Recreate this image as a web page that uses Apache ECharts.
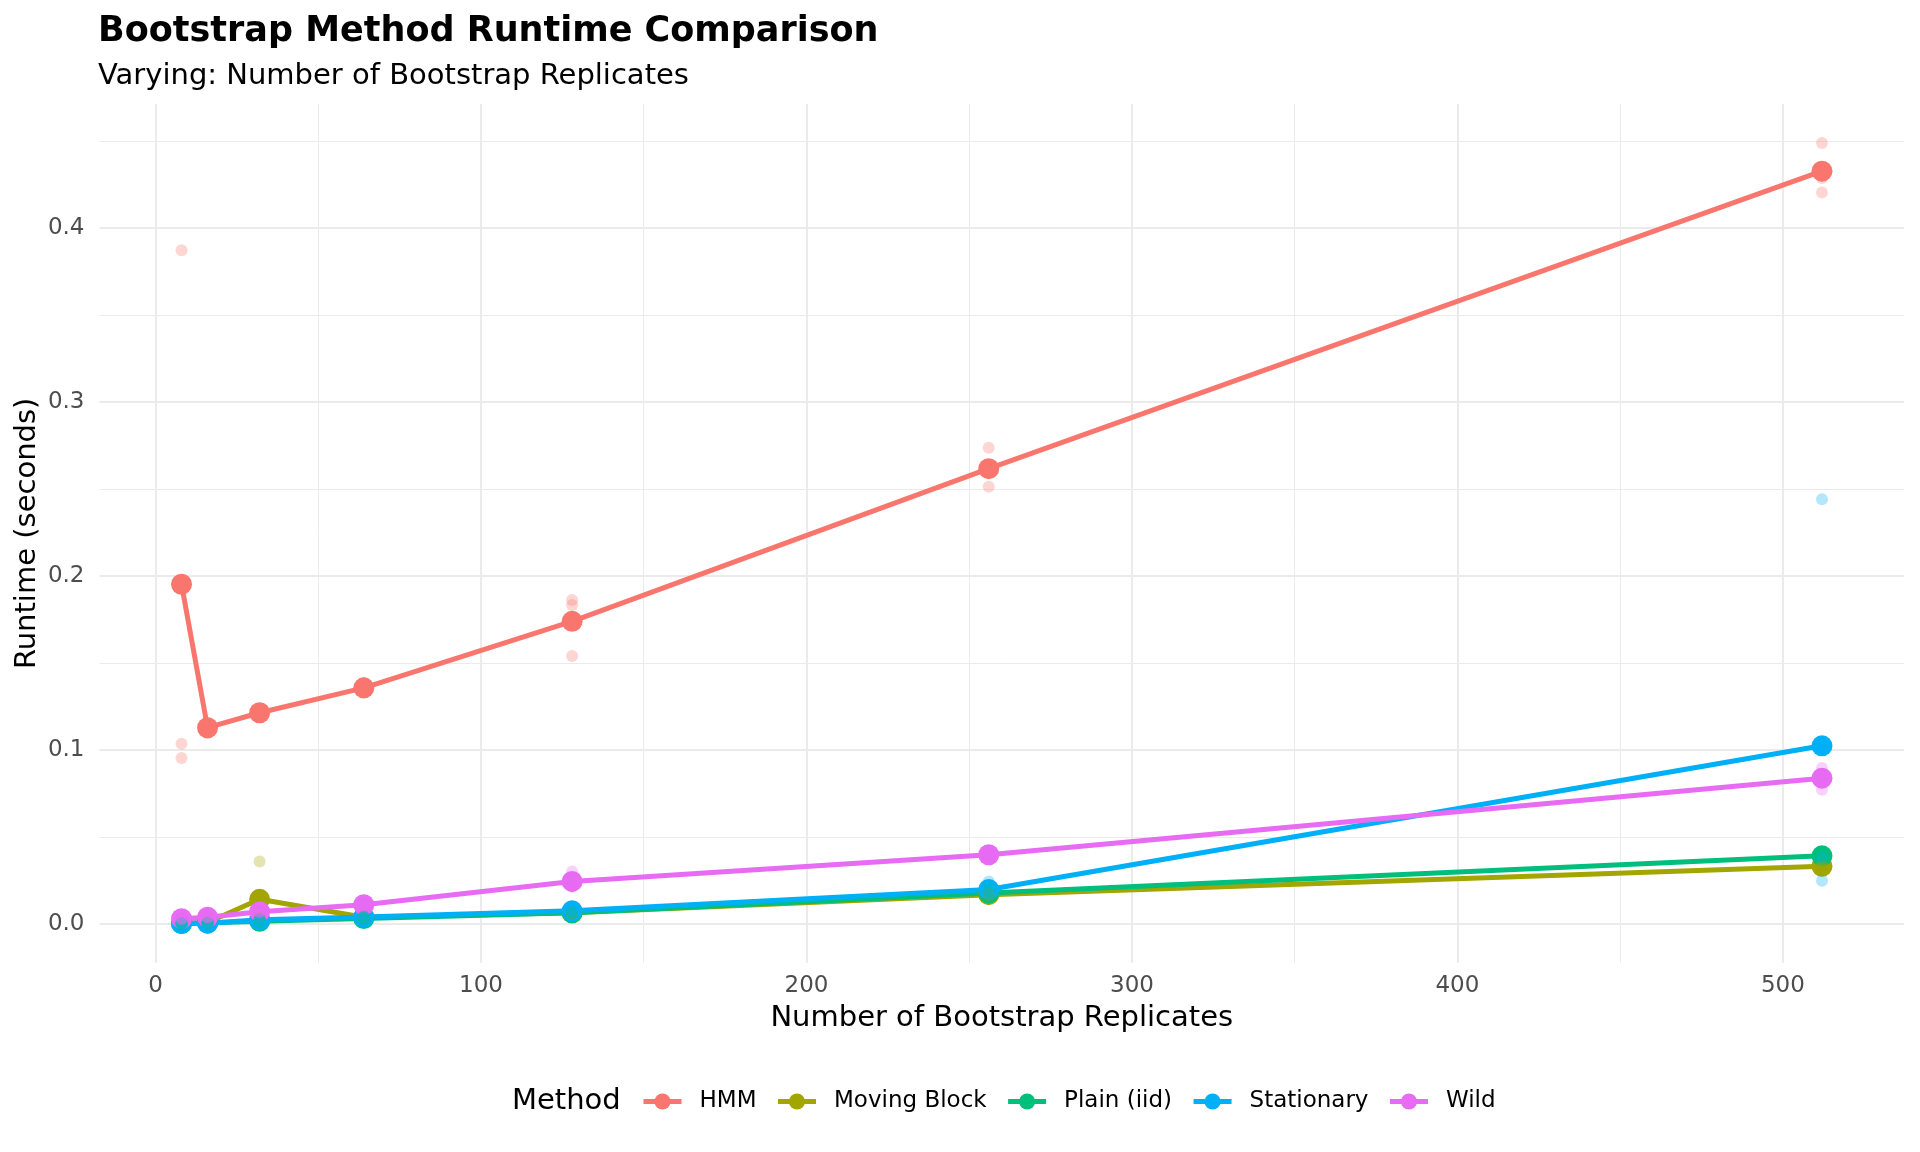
<!DOCTYPE html>
<html>
<head>
<meta charset="utf-8">
<script src="https://cdn.jsdelivr.net/npm/echarts@6/dist/echarts.min.js"></script>
<style>
html,body{margin:0;padding:0;background:#fff;}
#chart{width:1920px;height:1152px;}
</style>
</head>
<body>
<div id="chart"></div>
<script>
// ---- data ----
const replicates = [8, 16, 32, 64, 128, 256, 512];
const methods = ['HMM', 'Moving Block', 'Plain (iid)', 'Stationary', 'Wild'];
const colors = ['#F8766D', '#A3A500', '#00BF7D', '#00B0F6', '#E76BF3'];

// mean runtime (seconds) per replicate count
const meanHMM        = [0.1953, 0.1129, 0.1215, 0.1358, 0.1740, 0.2617, 0.4326];
const meanMovingBlock= [0.0005, 0.0010, 0.0143, 0.0040, 0.0066, 0.0170, 0.0333];
const meanPlain      = [0.0004, 0.0007, 0.0017, 0.0033, 0.0066, 0.0180, 0.0393];
const meanStationary = [0.0005, 0.0006, 0.0026, 0.0042, 0.0077, 0.0200, 0.1025];
const meanWild       = [0.0032, 0.0040, 0.0072, 0.0112, 0.0246, 0.0399, 0.0839];

// individual runs (3 per replicate count)
const runsHMM = [
  [0.3872, 0.1037, 0.0955], [0.1100, 0.1130, 0.1157], [0.1190, 0.1215, 0.1240],
  [0.1330, 0.1358, 0.1386], [0.1862, 0.1834, 0.1541], [0.2737, 0.2513, 0.2600],
  [0.4488, 0.4203, 0.4287]
];
const runsMovingBlock = [
  [0.0004, 0.0005, 0.0006], [0.0009, 0.0010, 0.0011], [0.0360, 0.0035, 0.0034],
  [0.0036, 0.0040, 0.0044], [0.0061, 0.0066, 0.0071], [0.0160, 0.0170, 0.0180],
  [0.0320, 0.0333, 0.0346]
];
const runsPlain = [
  [0.0003, 0.0004, 0.0005], [0.0006, 0.0007, 0.0008], [0.0015, 0.0017, 0.0019],
  [0.0030, 0.0033, 0.0036], [0.0062, 0.0066, 0.0070], [0.0150, 0.0180, 0.0210],
  [0.0380, 0.0393, 0.0406]
];
const runsStationary = [
  [0.0004, 0.0005, 0.0006], [0.0005, 0.0006, 0.0007], [0.0022, 0.0026, 0.0030],
  [0.0038, 0.0042, 0.0046], [0.0072, 0.0077, 0.0082], [0.0170, 0.0185, 0.0245],
  [0.2441, 0.0250, 0.0384]
];
const runsWild = [
  [0.0030, 0.0032, 0.0034], [0.0038, 0.0040, 0.0042], [0.0068, 0.0072, 0.0076],
  [0.0108, 0.0112, 0.0116], [0.0303, 0.0220, 0.0215], [0.0390, 0.0399, 0.0408],
  [0.0897, 0.0772, 0.0848]
];

const xMajorTicks = [0, 100, 200, 300, 400, 500];
const xMinorTicks = [50, 150, 250, 350, 450];
const yMajorTicks = [0, 0.1, 0.2, 0.3, 0.4];
const yMinorTicks = [0.05, 0.15, 0.25, 0.35, 0.45];

const means = [meanHMM, meanMovingBlock, meanPlain, meanStationary, meanWild];
const runs = [runsHMM, runsMovingBlock, runsPlain, runsStationary, runsWild];

// ---- chart ----
const X_MIN = -17.2, X_MAX = 537.2, Y_MIN = -0.0221, Y_MAX = 0.4712;
const FONT = 'DejaVu Sans';

const series = [];
methods.forEach((m, i) => {
  series.push({
    name: m,
    type: 'line',
    xAxisIndex: 0, yAxisIndex: 0,
    data: replicates.map((x, j) => [x, means[i][j]]),
    symbol: 'circle',
    symbolSize: 21,
    lineStyle: { color: colors[i], width: 5 },
    itemStyle: { color: colors[i] },
    z: 3,
    emphasis: { disabled: true },
    silent: true
  });
});
methods.forEach((m, i) => {
  const pts = [];
  replicates.forEach((x, j) => runs[i][j].forEach(v => pts.push([x, v])));
  series.push({
    name: m + ' runs',
    type: 'scatter',
    xAxisIndex: 0, yAxisIndex: 0,
    data: pts,
    symbol: 'circle',
    symbolSize: 12,
    itemStyle: { color: colors[i], opacity: 0.3 },
    z: 4,
    emphasis: { disabled: true },
    silent: true
  });
});

const gridLine = (w) => ({ show: true, lineStyle: { color: '#EBEBEB', width: w } });

const option = {
  animation: false,
  backgroundColor: '#ffffff',
  textStyle: { fontFamily: FONT },
  title: [
    { text: 'Bootstrap Method Runtime Comparison', left: 93, top: 9, padding: 5,
      textStyle: { fontFamily: FONT, fontSize: 35, fontWeight: 'bold', color: '#000' } },
    { text: 'Varying: Number of Bootstrap Replicates', left: 93, top: 57, padding: 5,
      textStyle: { fontFamily: FONT, fontSize: 29, fontWeight: 'normal', color: '#000' } },
    { text: 'Method', left: 507, top: 1082, padding: 5,
      textStyle: { fontFamily: FONT, fontSize: 29, fontWeight: 'normal', color: '#000' } }
  ],
  grid: { left: 99.5, right: 16, top: 104, bottom: 189.3, containLabel: false },
  legend: {
    data: methods,
    left: 636, top: 1085,
    padding: 5,
    orient: 'horizontal',
    itemWidth: 38, itemHeight: 20,
    itemGap: 19,
    selectedMode: false,
    lineStyle: { width: 5 },
    textStyle: { fontFamily: FONT, fontSize: 23, color: '#000', padding: [0, 0, 0, 13] }
  },
  xAxis: [
    { type: 'value', min: X_MIN, max: X_MAX, position: 'bottom',
      axisLine: { show: false },
      axisTick: { show: false, customValues: xMajorTicks },
      axisLabel: { show: true, customValues: xMajorTicks, fontFamily: FONT, fontSize: 23, color: '#4D4D4D', margin: 12,
        formatter: v => String(v) },
      splitLine: gridLine(2),
      name: 'Number of Bootstrap Replicates', nameLocation: 'middle', nameGap: 41, nameMoveOverlap: false,
      nameTextStyle: { fontFamily: FONT, fontSize: 29, color: '#000' },
      z: 1 },
    { type: 'value', min: X_MIN, max: X_MAX, position: 'bottom',
      axisLine: { show: false },
      axisTick: { show: false, customValues: xMinorTicks },
      axisLabel: { show: false, customValues: xMinorTicks },
      splitLine: gridLine(1),
      z: 0 }
  ],
  yAxis: [
    { type: 'value', min: Y_MIN, max: Y_MAX,
      axisLine: { show: false },
      axisTick: { show: false, customValues: yMajorTicks },
      axisLabel: { show: true, customValues: yMajorTicks, fontFamily: FONT, fontSize: 23, color: '#4D4D4D', margin: 15,
        formatter: v => v.toFixed(1) },
      splitLine: gridLine(2),
      name: 'Runtime (seconds)', nameLocation: 'middle', nameGap: 58, nameRotate: 90, nameMoveOverlap: false,
      nameTextStyle: { fontFamily: FONT, fontSize: 29, color: '#000' },
      z: 1 },
    { type: 'value', min: Y_MIN, max: Y_MAX,
      axisLine: { show: false },
      axisTick: { show: false, customValues: yMinorTicks },
      axisLabel: { show: false, customValues: yMinorTicks },
      splitLine: gridLine(1),
      z: 0 }
  ],
  series: series
};

const chart = echarts.init(document.getElementById('chart'), null, { renderer: 'canvas', width: 1920, height: 1152 });
chart.setOption(option);
</script>
</body>
</html>
